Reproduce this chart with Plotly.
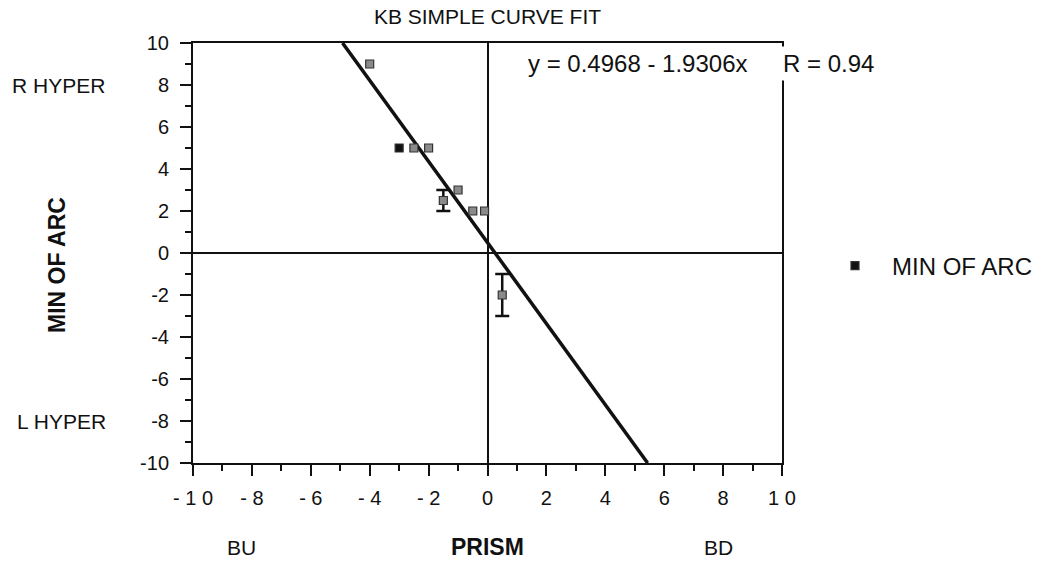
import plotly.graph_objects as go

# Prism power (x) against vertical misalignment in minutes of arc (y)
prism = [-3, -4, -2.5, -2, -1, -0.5, -0.1]
min_of_arc = [5, 9, 5, 5, 3, 2, 2]
point_fill = ["#111111", "#8a8a8a", "#8a8a8a", "#8a8a8a", "#8a8a8a", "#8a8a8a", "#8a8a8a"]

# Readings that carry a spread, drawn with error bars
prism_spread = [-1.5, 0.5]
arc_spread = [2.5, -2.0]
arc_spread_err = [0.5, 1.0]

# Simple linear fit  y = a + b*x
fit_intercept = 0.4968
fit_slope = -1.9306
fit_r = 0.94

axis_ticks = [-10, -8, -6, -4, -2, 0, 2, 4, 6, 8, 10]
minor_ticks = [-9, -7, -5, -3, -1, 1, 3, 5, 7, 9]
x_tick_text = ["- 1 0", "- 8", "- 6", "- 4", "- 2", "0", "2", "4", "6", "8", "1 0"]
y_tick_text = ["-10", "-8", "-6", "-4", "-2", "0", "2", "4", "6", "8", "10"]

FONT = "Liberation Sans, Arial, Helvetica, sans-serif"

# The fitted line runs across the full vertical range of the frame
y_ends = [10, -10]
x_ends = [(y - fit_intercept) / fit_slope for y in y_ends]

fig = go.Figure()

fig.add_trace(go.Scatter(
    x=x_ends, y=y_ends, mode="lines",
    line=dict(color="#111111", width=3.5),
    showlegend=False, hoverinfo="skip",
))

fig.add_trace(go.Scatter(
    x=prism, y=min_of_arc, mode="markers", name="MIN OF ARC",
    marker=dict(symbol="square", size=8, color=point_fill,
                line=dict(color="#333333", width=1.2)),
))

fig.add_trace(go.Scatter(
    x=prism_spread, y=arc_spread, mode="markers", showlegend=False,
    marker=dict(symbol="square", size=8, color="#8a8a8a",
                line=dict(color="#333333", width=1.2)),
    error_y=dict(type="data", array=arc_spread_err, visible=True,
                 color="#111111", thickness=2.5, width=7),
))

axis_common = dict(
    tickvals=axis_ticks,
    ticks="outside", ticklen=11, tickwidth=2, tickcolor="#111111",
    showline=True, linewidth=2, linecolor="#111111", mirror=True,
    showgrid=False,
    zeroline=True, zerolinewidth=2, zerolinecolor="#111111",
    range=[-10, 10],
    tickfont=dict(family=FONT, size=20, color="#111111"),
    minor=dict(tickvals=minor_ticks, ticks="outside", ticklen=6,
               tickwidth=2, tickcolor="#111111", showgrid=False),
    fixedrange=True,
)

fig.update_xaxes(ticktext=x_tick_text, ticklabelstandoff=5, **axis_common)
fig.update_yaxes(ticktext=y_tick_text, ticklabelstandoff=7, **axis_common)

W, H = 1037, 561
PX_L, PX_R, PX_T, PX_B = 193, 782, 43, 463


def px_x(px):
    return (px - PX_L) / (PX_R - PX_L)


def px_y(py):
    return (PX_B - py) / (PX_B - PX_T)


text_font = dict(family=FONT, size=21, color="#111111")
bold_font = dict(family=FONT, size=23, color="#111111")
eq_font = dict(family=FONT, size=24, color="#111111")

annotations = [
    dict(text="R HYPER", x=px_x(10), y=8, xref="paper", yref="y",
         xanchor="left", yanchor="middle", showarrow=False, font=text_font),
    dict(text="L HYPER", x=px_x(15), y=-8, xref="paper", yref="y",
         xanchor="left", yanchor="middle", showarrow=False, font=text_font),
    dict(text="<b>MIN OF ARC</b>", x=px_x(57), y=px_y(265), xref="paper", yref="paper",
         xanchor="center", yanchor="middle", textangle=-90, showarrow=False,
         font=bold_font),
    dict(text="BU", x=px_x(241), y=px_y(547), xref="paper", yref="paper",
         xanchor="center", yanchor="middle", showarrow=False, font=text_font),
    dict(text="<b>PRISM</b>", x=px_x(487), y=px_y(547), xref="paper", yref="paper",
         xanchor="center", yanchor="middle", showarrow=False, font=bold_font),
    dict(text="BD", x=px_x(718), y=px_y(547), xref="paper", yref="paper",
         xanchor="center", yanchor="middle", showarrow=False, font=text_font),
    dict(text=f"y = {fit_intercept:.4f} - {abs(fit_slope):.4f}x",
         x=px_x(526), y=px_y(63), xref="paper", yref="paper",
         xanchor="left", yanchor="middle", showarrow=False, font=eq_font),
    dict(text=f"R = {fit_r:.2f}", x=px_x(779), y=px_y(63), xref="paper", yref="paper",
         xanchor="left", yanchor="middle", showarrow=False, bgcolor="white",
         borderpad=3, font=eq_font),
]

fig.update_layout(
    width=W, height=H, autosize=False,
    margin=dict(l=PX_L, r=W - PX_R, t=PX_T, b=H - PX_B, pad=0),
    paper_bgcolor="white", plot_bgcolor="white",
    title=dict(text="KB SIMPLE CURVE FIT", x=0.5, xref="paper", xanchor="center",
               y=1 - 17 / H, yref="container", yanchor="middle",
               font=dict(family=FONT, size=21, color="#111111")),
    legend=dict(x=818 / W, y=1 - 266 / H, xanchor="left", yanchor="middle",
                xref="container", yref="container",
                font=dict(family=FONT, size=24, color="#111111"),
                bgcolor="rgba(0,0,0,0)", itemwidth=64),
    annotations=annotations,
    showlegend=True,
)

fig.write_html("out.html")
